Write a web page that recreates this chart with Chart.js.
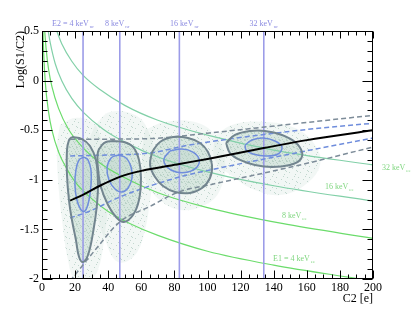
<!DOCTYPE html>
<html><head><meta charset="utf-8">
<script src="https://cdn.jsdelivr.net/npm/chart.js@4.4.1/dist/chart.umd.min.js"></script>
<style>html,body{margin:0;padding:0;background:#fff}canvas{display:block}</style>
</head><body>
<canvas id="c" width="415" height="311"></canvas>
<script>
// ---------- data ----------
const xTicks = [0,20,40,60,80,100,120,140,160,180,200];
const xTickLabels = ['0','20','40','60','80','100','120','140','160','180','200'];
const yTicks = [-2,-1.5,-1,-0.5,0,0.5];
const yTickLabels = ['-2','-1.5','-1','-0.5','0','0.5'];
const nrLabels = ['E2 = 4 keV','8 keV','16 keV','32 keV'];
const nrC2 = [24.8,47,83,134];
const eeLabels = ['E1 = 4 keV','8 keV','16 keV','32 keV'];

const ee4  = [[0.6,0.5],[1,0.28],[2,-0.02],[4,-0.32],[6,-0.5],[10,-0.72],[15,-0.89],[20,-1.02],[30,-1.19],[40,-1.32],[53,-1.44],[70,-1.56],[100,-1.72],[140,-1.86],[192,-2.0]];
const ee8  = [[1.64,0.5],[2.5,0.32],[4,0.11],[6,-0.06],[10,-0.28],[16,-0.49],[25,-0.68],[35,-0.83],[50,-0.98],[70,-1.13],[100,-1.28],[145,-1.44],[200,-1.59]];
const ee16 = [[3.75,0.5],[5,0.38],[8,0.17],[12,-0.005],[18,-0.18],[25,-0.32],[37,-0.49],[50,-0.62],[70,-0.77],[100,-0.92],[140,-1.06],[200,-1.215]];
const ee32 = [[8.9,0.5],[12,0.37],[18,0.195],[25,0.05],[35,-0.09],[50,-0.25],[70,-0.4],[100,-0.55],[140,-0.7],[200,-0.85]];

const meanBand = [[17,-1.21],[25,-1.15],[35,-1.06],[47,-0.97],[60,-0.91],[83,-0.84],[100,-0.79],[134,-0.68],[160,-0.6],[200,-0.5]];
const upperGrey = [[17,-0.59],[40,-0.59],[65,-0.585],[100,-0.53],[150,-0.44],[200,-0.35]];
const upperBlue = [[17,-0.76],[40,-0.75],[65,-0.73],[89,-0.65],[156,-0.5],[200,-0.43]];
const lowerBlue = [[17,-1.385],[29,-1.315],[47,-1.173],[83,-0.972],[101.5,-0.901],[150,-0.74],[200,-0.579]];
const lowerGrey = [[17,-2.02],[32,-1.71],[47,-1.425],[65,-1.27],[83,-1.12],[101.5,-1.05],[156,-0.85],[200,-0.67]];

const outer1 = [[18.1,-0.569],[24.2,-0.589],[29.0,-0.659],[32.6,-0.8],[33.8,-1.032],[33.2,-1.254],[30.8,-1.536],[27.8,-1.758],[24.8,-1.829],[22.4,-1.778],[20.5,-1.607],[18.1,-1.405],[16.3,-1.204],[15.1,-0.952],[15.1,-0.7],[16.3,-0.599]];
const inner1 = [[25.4,-0.77],[27.8,-0.8],[29.6,-0.901],[29.6,-1.052],[28.4,-1.204],[26.0,-1.315],[23.6,-1.304],[21.1,-1.204],[19.9,-1.052],[20.5,-0.901],[22.4,-0.8]];
const outer2 = [[42.3,-0.609],[49.5,-0.619],[55.0,-0.669],[58.6,-0.8],[59.8,-0.982],[58.6,-1.204],[55.0,-1.355],[49.5,-1.425],[44.7,-1.375],[39.9,-1.254],[35.6,-1.073],[33.8,-0.881],[33.8,-0.72],[36.3,-0.649],[38.7,-0.619]];
const inner2 = [[45.9,-0.75],[50.8,-0.78],[53.8,-0.871],[54.4,-0.982],[52.0,-1.083],[48.3,-1.123],[44.1,-1.093],[40.5,-1.002],[39.3,-0.881],[41.7,-0.78]];
const outer3 = [[66.5,-0.72],[71.3,-0.619],[79.2,-0.569],[88.2,-0.579],[95.5,-0.629],[100.3,-0.72],[102.7,-0.851],[101.5,-0.982],[96.7,-1.083],[89.4,-1.133],[80.4,-1.123],[73.1,-1.063],[68.3,-0.972],[65.3,-0.851]];
const inner3 = [[77.3,-0.71],[84.6,-0.69],[91.2,-0.72],[94.9,-0.79],[93.7,-0.871],[88.2,-0.921],[81.0,-0.921],[75.5,-0.871],[73.7,-0.79]];
const outer4 = [[111.2,-0.629],[116.6,-0.548],[125.7,-0.508],[134.7,-0.508],[145.0,-0.548],[152.9,-0.619],[157.1,-0.72],[155.9,-0.8],[149.8,-0.851],[139.0,-0.871],[128.7,-0.851],[119.6,-0.8],[113.6,-0.73]];
const inner4 = [[122.7,-0.649],[126.9,-0.599],[133.5,-0.579],[140.8,-0.609],[145.0,-0.669],[142.6,-0.74],[135.3,-0.76],[127.5,-0.74],[123.3,-0.7]];

// outlines of the scattered event clouds
const cloud1 = [[10.9,-0.448],[19.9,-0.377],[30.2,-0.417],[35.0,-0.548],[38.7,-0.8],[39.9,-1.204],[37.5,-1.607],[33.8,-1.909],[29.0,-2.0],[19.9,-2.0],[15.7,-1.808],[12.1,-1.405],[9.7,-1.002],[9.1,-0.649]];
const cloud2 = [[32.0,-0.448],[41.1,-0.317],[56.2,-0.347],[64.0,-0.498],[68.3,-0.8],[65.3,-1.204],[62.2,-1.506],[56.2,-1.758],[45.9,-1.829],[38.1,-1.607],[32.6,-1.304],[29.0,-0.901],[29.0,-0.599]];
const cloud3 = [[62.2,-0.498],[74.3,-0.417],[92.4,-0.417],[104.5,-0.548],[110.6,-0.8],[107.6,-1.103],[98.5,-1.254],[83.4,-1.304],[71.3,-1.204],[64.0,-1.052],[60.4,-0.8]];
const cloud4 = [[104.5,-0.548],[116.6,-0.437],[134.7,-0.417],[152.9,-0.478],[165.0,-0.649],[168.0,-0.851],[158.9,-1.052],[143.8,-1.153],[128.7,-1.103],[116.6,-0.982],[104.5,-0.8]];

// ---------- styling helpers ----------
const FONT = 'Liberation Serif';
function stipple(spots, size, color){
  const c = document.createElement('canvas'); c.width = size; c.height = size;
  const g = c.getContext('2d'); g.fillStyle = color;
  spots.forEach(s => g.fillRect(s[0], s[1], 1, 1));
  return g.createPattern(c, 'repeat');
}
const sparse = stipple([[1,1],[6,3],[3,7],[9,9],[8,0],[0,6],[10,5]], 11, 'rgba(170,198,188,0.75)');
const dense  = stipple([[0,0],[3,1],[5,4],[1,4],[6,6],[2,6],[4,2],[6,0]], 7, 'rgba(165,195,182,0.6)');

// ---------- build datasets ----------
const pts = a => a.map(p => ({x:p[0], y:p[1]}));
const closed = a => pts(a.concat([a[0]]));
const ds = [];

[cloud1,cloud2,cloud3,cloud4].forEach(c => ds.push({data:closed(c), showLine:true, pointRadius:0, borderWidth:0, tension:0.4, fill:'shape', backgroundColor:sparse, order:22}));
[cloud1,cloud2,cloud3,cloud4].forEach(c => ds.push({data:closed(c), showLine:true, pointRadius:0, borderWidth:0, tension:0.4, fill:'shape', backgroundColor:'rgba(205,222,215,0.25)', order:21}));
[outer1,outer2,outer3,outer4].forEach(c => ds.push({data:closed(c), showLine:true, pointRadius:0, borderWidth:0, tension:0.4, fill:'shape', backgroundColor:'rgba(195,218,208,0.55)', order:20}));
[outer1,outer2,outer3,outer4].forEach(c => ds.push({data:closed(c), showLine:true, pointRadius:0, borderWidth:0, tension:0.4, fill:'shape', backgroundColor:dense, order:19}));
[inner1,inner2,inner3,inner4].forEach(c => ds.push({data:closed(c), showLine:true, pointRadius:0, borderWidth:0, tension:0.4, fill:'shape', backgroundColor:'rgba(175,203,192,0.3)', order:18}));

[[ee4,'#6bdc6b'],[ee8,'#6bdc6b'],[ee16,'#82d0a8'],[ee32,'#82d0a8']].forEach(([c,col]) => ds.push({data:pts(c), showLine:true, pointRadius:0, borderColor:col, borderWidth:1.2, cubicInterpolationMode:'monotone', fill:false, order:15}));

nrC2.forEach(v => ds.push({data:[{x:v,y:-2},{x:v,y:0.5}], showLine:true, pointRadius:0, borderColor:'#9c9ce8', borderWidth:1.6, fill:false, order:12}));

[[upperGrey,'#7d8c99'],[lowerGrey,'#7d8c99'],[upperBlue,'#6f8ddc'],[lowerBlue,'#6f8ddc']].forEach(([c,col]) => ds.push({data:pts(c), showLine:true, pointRadius:0, borderColor:col, borderWidth:1.5, borderDash:[5,3], cubicInterpolationMode:'monotone', fill:false, order:8}));

[outer1,outer2,outer3,outer4].forEach(c => ds.push({data:closed(c), showLine:true, pointRadius:0, borderColor:'#72858f', borderWidth:2, tension:0.4, fill:false, order:5}));
[inner1,inner2,inner3,inner4].forEach(c => ds.push({data:closed(c), showLine:true, pointRadius:0, borderColor:'#6f8ddc', borderWidth:1.5, tension:0.4, fill:false, order:4}));

ds.push({data:pts(meanBand), showLine:true, pointRadius:0, borderColor:'#000', borderWidth:2, cubicInterpolationMode:'monotone', fill:false, order:1});

// ---------- frame, inward ticks and annotations ----------
function drawSub(ctx, main, sub, x, y, size, align){
  const sz2 = Math.round(size*0.65);
  ctx.font = size+'px '+FONT;
  const w1 = ctx.measureText(main).width;
  ctx.font = sz2+'px '+FONT;
  const w2 = ctx.measureText(sub).width;
  const tot = w1 + 1 + w2;
  let x0 = align==='center' ? x - tot/2 : (align==='right' ? x - tot : x);
  ctx.textAlign='left'; ctx.textBaseline='alphabetic';
  ctx.font = size+'px '+FONT; ctx.fillText(main, x0, y);
  ctx.font = sz2+'px '+FONT; ctx.fillText(sub, x0+w1+1, y+2);
}
const frame = {
  id:'frame',
  afterDraw(chart){
    const {ctx, chartArea:a, scales:{x, y}} = chart;
    ctx.save();
    ctx.strokeStyle='#000'; ctx.lineWidth=1;
    const L=Math.round(a.left)+0.5, R=Math.round(a.right)-0.5, T=Math.round(a.top)+0.5, B=Math.round(a.bottom)-0.5;
    ctx.strokeRect(L, T, R-L, B-T);
    ctx.beginPath();
    for(let v=xTicks[0]; v<=xTicks[xTicks.length-1]+1e-9; v+=5){
      const px = Math.round(x.getPixelForValue(v))+0.5;
      const major = xTicks.includes(v);
      ctx.moveTo(px,B); ctx.lineTo(px,B-(major?8:4));
      ctx.moveTo(px,T); ctx.lineTo(px,T+(major?7:4));
    }
    for(let k=-20;k<=5;k++){
      const v=k/10, py=Math.round(y.getPixelForValue(v))+0.5;
      const major = (k%5===0);
      ctx.moveTo(L,py); ctx.lineTo(L+(major?10:5),py);
      ctx.moveTo(R,py); ctx.lineTo(R-(major?10:5),py);
    }
    ctx.stroke();
    // axis titles
    ctx.fillStyle='#000';
    ctx.font='12px '+FONT;
    ctx.textAlign='right'; ctx.textBaseline='alphabetic';
    ctx.fillText('C2 [e]', a.right, 302);
    ctx.save();
    ctx.translate(24, a.top); ctx.rotate(-Math.PI/2);
    ctx.textAlign='right'; ctx.fillText('Log(S1/C2)', 0, 0);
    ctx.restore();
    // nuclear recoil labels on top
    ctx.fillStyle='#8a8ae0';
    const nrOff=[-10,-2.5,5,0];
    nrC2.forEach((v,i)=> drawSub(ctx, nrLabels[i], 'nr', x.getPixelForValue(v)+nrOff[i], 26, 8, 'center'));
    // electron-equivalent labels
    ctx.fillStyle='#7fd67f';
    const eePos=[[273,261],[282,218],[325,189],[382,170]];
    eeLabels.forEach((t,i)=> drawSub(ctx, t, 'ee', eePos[i][0], eePos[i][1], 8, 'left'));
    ctx.restore();
  }
};

new Chart(document.getElementById('c'), {
  type:'scatter',
  data:{datasets:ds},
  plugins:[frame],
  options:{
    responsive:false, animation:false, devicePixelRatio:1,
    layout:{padding:{top:31, right:42, left:0, bottom:0}},
    plugins:{legend:{display:false}, tooltip:{enabled:false}},
    elements:{line:{borderCapStyle:'butt'}},
    scales:{
      x:{type:'linear', min:0, max:200,
         afterBuildTicks:s=>{s.ticks = xTicks.map(v=>({value:v}));},
         afterFit:s=>{s.height=32;},
         grid:{display:false, drawTicks:false}, border:{display:false},
         ticks:{color:'#000', font:{family:FONT,size:12}, padding:2, maxRotation:0, autoSkip:false,
                callback:v=>xTickLabels[xTicks.indexOf(v)]}},
      y:{type:'linear', min:-2, max:0.5,
         afterBuildTicks:s=>{s.ticks = yTicks.map(v=>({value:v}));},
         afterFit:s=>{s.width=42;},
         grid:{display:false, drawTicks:false}, border:{display:false},
         ticks:{color:'#000', font:{family:FONT,size:12}, padding:3, autoSkip:false,
                callback:v=>yTickLabels[yTicks.indexOf(v)]}}
    }
  }
});
</script>
</body></html>
